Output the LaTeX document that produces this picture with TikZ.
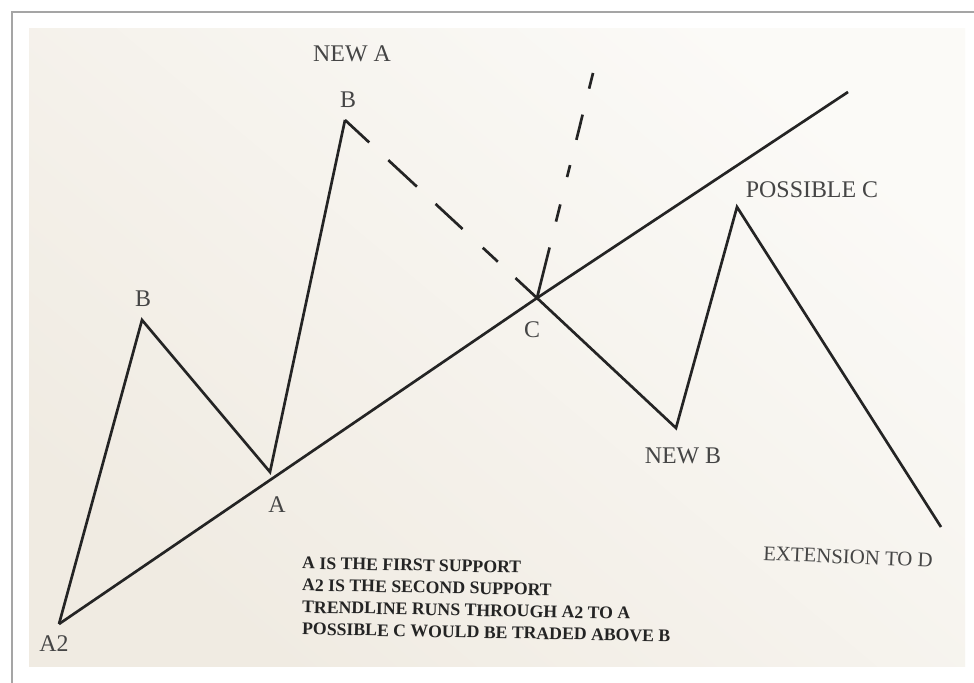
\documentclass[tikz,border=0pt]{standalone}
\usepackage{fontspec}
\setmainfont{Liberation Serif}
\usetikzlibrary{positioning}
\definecolor{paper}{RGB}{240,235,226}
\definecolor{paperlight}{RGB}{251,250,247}
\definecolor{ink}{RGB}{36,36,36}
\definecolor{frameline}{RGB}{165,165,165}
\tikzset{
  wave/.style={draw=ink, line width=1.9pt, line join=miter},
  lbl/.style={text=ink!85, font=\fontsize{17}{20}\selectfont, inner sep=0pt},
  note/.style={text=ink, font=\bfseries\fontsize{12.6}{15}\selectfont, anchor=west, inner sep=0pt, rotate=-1.1},
}

\begin{document}
\begin{tikzpicture}[x=0.025cm, y=-0.025cm]
  \useasboundingbox (0,0) rectangle (974,683);
  % photo frame and page
  \fill[white] (0,0) rectangle (974,683);
  \draw[frameline, line width=1.6pt] (12,683) -- (12,12) -- (974,12);
  \shade[top color=paperlight, bottom color=paper, shading angle=-40] (29,29) rectangle (965,666);

  % turning points
  \coordinate (a2) at (59,624);
  \coordinate (b1) at (142,320);
  \coordinate (a) at (270,472);
  \coordinate (b2) at (345,120);
  \coordinate (c) at (537,298);
  \coordinate (newb) at (676,428);
  \coordinate (posc) at (737,207);
  \coordinate (d) at (941,527);
  \coordinate (trendend) at (848,92);
  \coordinate (steep) at (593,73);

  % price swings
  \draw[wave] (a2) -- (b1) -- (a) -- (b2);
  \draw[wave, dash pattern=on 23.5pt off 18.5pt on 27.7pt off 18.1pt on 26.2pt off 19.6pt on 14.6pt off 17.1pt on 22pt] (b2) -- (c);
  \draw[wave] (c) -- (newb) -- (posc) -- (d);
  % trendline A2 -> A
  \draw[wave] (a2) -- (c) -- (trendend);
  \draw[wave, dash pattern=on 37pt off 19pt on 12.6pt off 20pt on 8.8pt off 18.5pt on 18.5pt off 19pt on 13pt] (c) -- (steep);

  % labels
  \node[lbl] (lblnewa) at (352,54) {NEW A};
  \node[lbl] (lblb2) at (348,100) {B};
  \node[lbl] (lblb1) at (143,299) {B};
  \node[lbl] (lbla) at (277,505) {A};
  \node[lbl] (lblc) at (532,330) {C};
  \node[lbl] (lbla2) at (54,644) {A2};
  \node[lbl] (lblnewb) at (683,456) {NEW B};
  \node[lbl] (lblposc) at (812,190) {POSSIBLE C};
  \node[lbl, font=\fontsize{14.8}{17}\selectfont, rotate=-2.5] (lblext) at (848,557) {EXTENSION TO D};

  % notes
  \node[note] (note1) at (302,563) {A IS THE FIRST SUPPORT};
  \node[note] (note2) at (302,585) {A2 IS THE SECOND SUPPORT};
  \node[note] (note3) at (302,607) {TRENDLINE RUNS THROUGH A2 TO A};
  \node[note] (note4) at (302,629) {POSSIBLE C WOULD BE TRADED ABOVE B};
\end{tikzpicture}
\end{document}
